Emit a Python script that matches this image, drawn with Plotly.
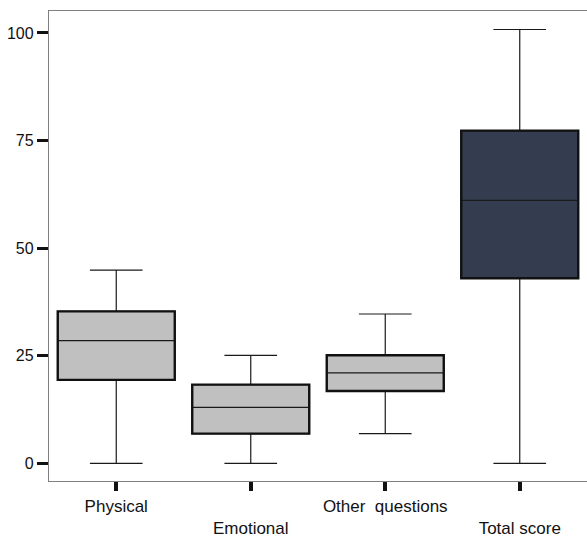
import plotly.graph_objects as go

categories = ["Physical", "Emotional", "Other  questions", "Total score"]
tick_labels = ["Physical", "<br>Emotional", "Other  questions", "<br>Total score"]
lower_whisker = [0, 0, 6.9, 0]
q1_values = [19.4, 6.9, 16.8, 43.0]
medians = [28.5, 13.0, 21.0, 61.1]
q3_values = [35.3, 18.3, 25.1, 77.3]
upper_whisker = [44.9, 25.1, 34.7, 100.8]
fill_colors = ["#c0c0c0", "#c0c0c0", "#c0c0c0", "#333d4f"]
y_ticks = [0, 25, 50, 75, 100]

BOX_W = 0.87

fig = go.Figure()
for i, cat in enumerate(categories):
    fig.add_trace(go.Box(
        x=[i], q1=[q1_values[i]], median=[medians[i]], q3=[q3_values[i]],
        lowerfence=[lower_whisker[i]], upperfence=[upper_whisker[i]],
        name=cat, width=BOX_W, whiskerwidth=0.45,
        fillcolor=fill_colors[i], line=dict(color="#1a1a1a", width=1.2),
        boxpoints=False, hoverinfo="skip", showlegend=False,
    ))
    # thicker box outline
    fig.add_shape(type="rect", xref="x", yref="y",
                  x0=i - BOX_W / 2, x1=i + BOX_W / 2,
                  y0=q1_values[i], y1=q3_values[i],
                  line=dict(color="#111111", width=2.4), fillcolor="rgba(0,0,0,0)")

fig.update_layout(
    width=587, height=538,
    margin=dict(l=49, r=0, t=11, b=55),
    plot_bgcolor="white", paper_bgcolor="white",
    boxmode="overlay",
    font=dict(family="Liberation Sans, Arial, sans-serif", color="#111"),
    xaxis=dict(
        range=[-0.5, 3.5], tickmode="array",
        tickvals=list(range(len(categories))), ticktext=tick_labels,
        showline=True, linecolor="#808080", linewidth=1.3, mirror=True,
        ticks="outside", ticklen=9, tickwidth=4, tickcolor="#111",
        showgrid=False, zeroline=False, tickfont=dict(size=17),
    ),
    yaxis=dict(
        range=[-4.1, 105.1], tickmode="array", tickvals=y_ticks,
        showline=True, linecolor="#808080", linewidth=1.3, mirror=False,
        ticks="outside", ticklen=11, tickwidth=3, tickcolor="#111",
        showgrid=False, zeroline=False, tickfont=dict(size=16),
    ),
)

fig.write_html(
    "out.html",
    config={"displayModeBar": False},
    post_script="document.body.style.margin='0';document.body.style.overflow='hidden';",
)
